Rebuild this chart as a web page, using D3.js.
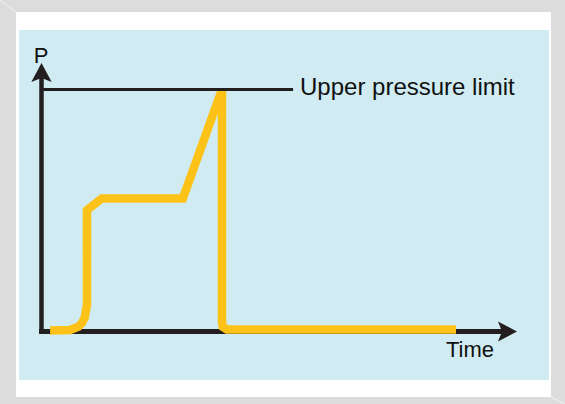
<!DOCTYPE html>
<html><head><meta charset="utf-8">
<script src="https://cdn.jsdelivr.net/npm/d3@7"></script>
<style>html,body{margin:0;padding:0;background:#fff}svg{display:block}</style>
</head><body>
<script>
// Pressure curve (time units, pressure as % of upper limit)
const timeValues     = [1.8, 6.2, 8.1, 8.9, 9.5, 10, 10, 13.3, 31.3, 40, 40, 40.2, 41.1, 92];
const pressureValues = [0.4, 0.6, 2.0, 3.6, 5.8, 11, 50.2, 55, 55, 100, 3.9, 1.9, 0.8, 0.8];
const upperLimit = 100;
const limitEndTime = 55.8;
const axisLabels = {y: "P", x: "Time"};
const limitLabel = "Upper pressure limit";

const W = 565, H = 404;
const svg = d3.select("body").append("svg").attr("width", W).attr("height", H);

// frame
svg.append("rect").attr("width", W).attr("height", H).attr("fill", "#dcdcdd");
svg.append("line").attr("x1",0).attr("y1",0).attr("x2",16).attr("y2",12).attr("stroke","#e9e9ea").attr("stroke-width",1.5);
svg.append("line").attr("x1",551).attr("y1",397).attr("x2",565).attr("y2",404).attr("stroke","#e9e9ea").attr("stroke-width",1.5);
svg.append("rect").attr("x",16).attr("y",12).attr("width",535).attr("height",385).attr("fill","#ffffff");
svg.append("rect").attr("x",19).attr("y",30).attr("width",530).attr("height",350).attr("fill","#d0ecf2");

const x = d3.scaleLinear().domain([0, 30]).range([42, 177]);
const y = d3.scaleLinear().domain([0, 100]).range([331.5, 89.5]);

const ink = "#231f20";
// axes
svg.append("line").attr("x1", 41.5).attr("x2", 41.5).attr("y1", 334).attr("y2", 76)
  .attr("stroke", ink).attr("stroke-width", 4.5);
svg.append("path").attr("d", "M41.5,63 L51.7,82 L41.5,78 L31.3,82 Z").attr("fill", ink);
svg.append("line").attr("x1", 39).attr("x2", 504).attr("y1", 331.5).attr("y2", 331.5)
  .attr("stroke", ink).attr("stroke-width", 5);
svg.append("path").attr("d", "M517,331.5 L498,321.5 L502,331.5 L498,341.5 Z").attr("fill", ink);

// pressure curve
const pts = timeValues.map((t, i) => [t, pressureValues[i]]);
svg.append("clipPath").attr("id", "clip").append("rect")
  .attr("x", 0).attr("y", y(upperLimit)).attr("width", W).attr("height", H);
svg.append("path").datum(pts)
  .attr("clip-path", "url(#clip)")
  .attr("d", d3.line().x(d => x(d[0])).y(d => y(d[1])))
  .attr("fill", "none").attr("stroke", "#fdc217").attr("stroke-width", 8.5)
  .attr("stroke-linejoin", "miter").attr("stroke-miterlimit", 4);

// upper limit line
svg.append("line").attr("x1", x(0)).attr("x2", x(limitEndTime))
  .attr("y1", y(upperLimit)).attr("y2", y(upperLimit))
  .attr("stroke", ink).attr("stroke-width", 3);

// labels
svg.append("text").attr("x", 300).attr("y", 95).text(limitLabel)
  .attr("font-family", "Liberation Sans, Arial, sans-serif").attr("font-size", 24).attr("fill", "#111");
svg.append("text").attr("x", 41).attr("y", 63).attr("text-anchor", "middle").text(axisLabels.y)
  .attr("font-family", "Liberation Sans, Arial, sans-serif").attr("font-size", 22).attr("fill", "#111");
svg.append("text").attr("x", 446).attr("y", 357).text(axisLabels.x)
  .attr("font-family", "Liberation Sans, Arial, sans-serif").attr("font-size", 22).attr("fill", "#111");
</script>
</body></html>
